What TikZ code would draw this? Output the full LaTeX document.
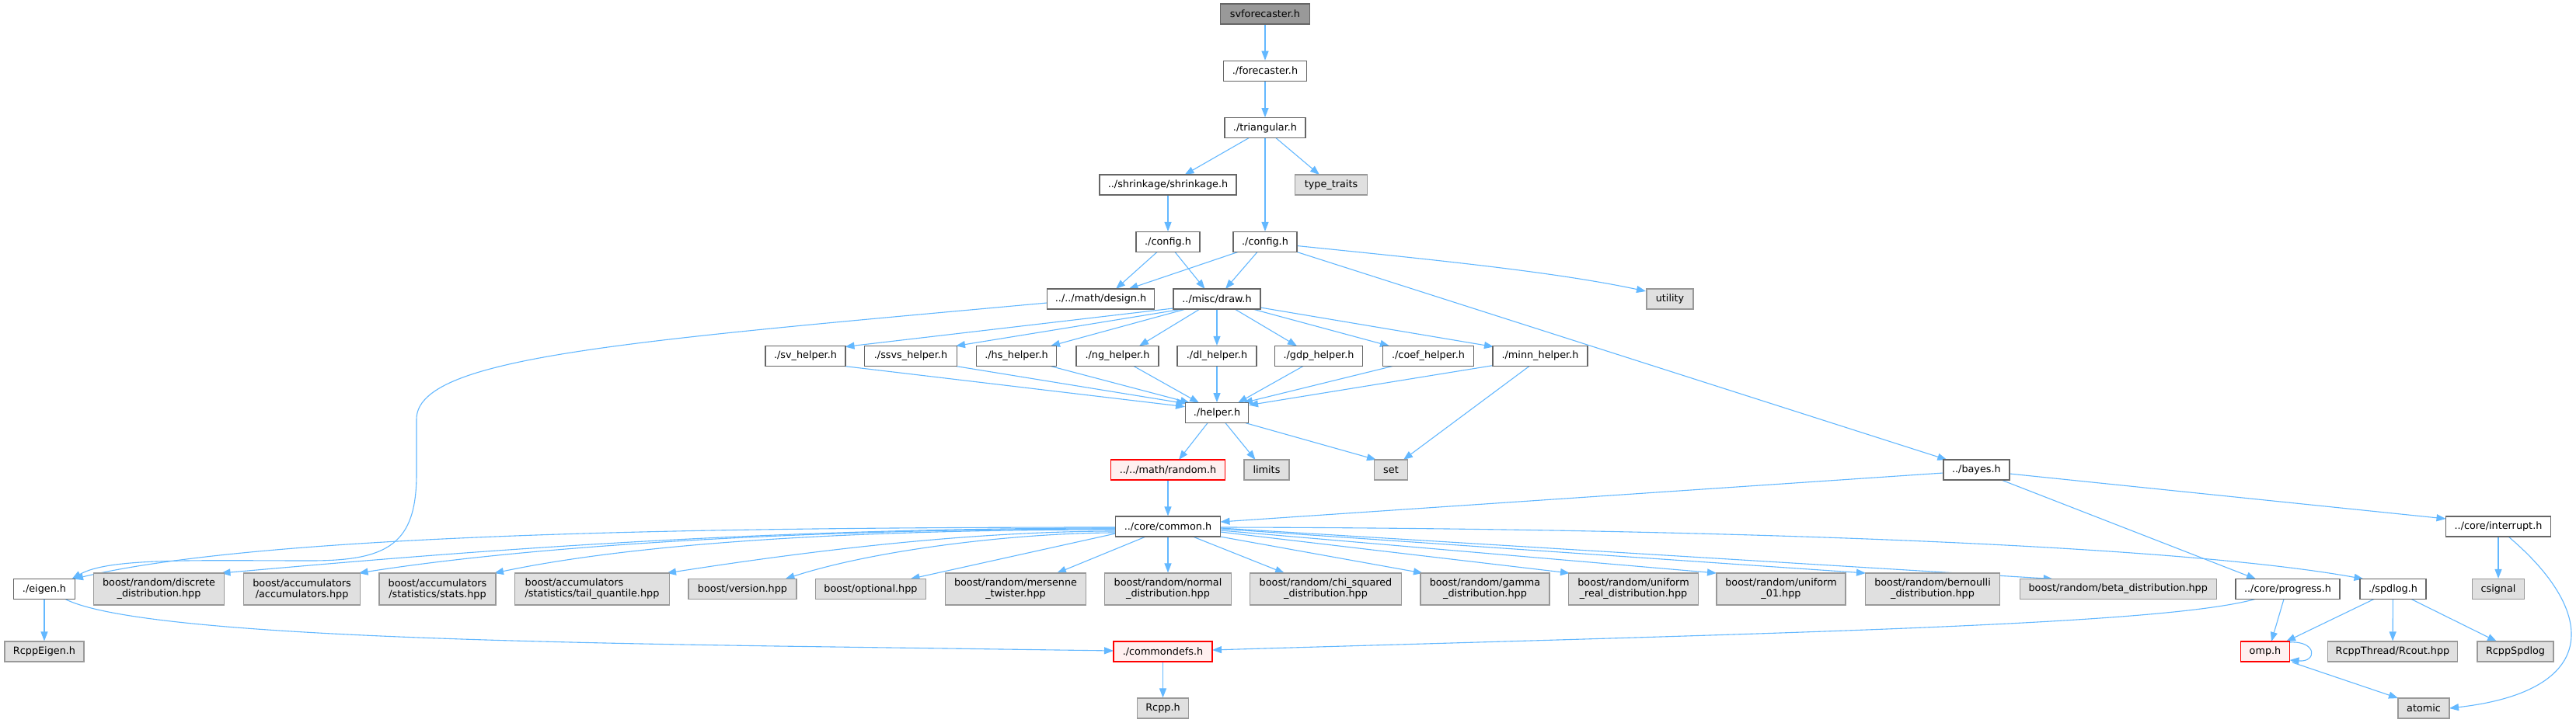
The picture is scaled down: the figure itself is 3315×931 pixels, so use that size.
\documentclass[tikz,border=0pt]{standalone}
\usepackage{fontspec}
\setmainfont{DejaVu Sans}
\usetikzlibrary{arrows.meta,calc,backgrounds}
\definecolor{edgec}{HTML}{63B8FF}
\definecolor{docb}{HTML}{666666}
\definecolor{extb}{HTML}{999999}
\definecolor{extf}{HTML}{E0E0E0}
\definecolor{redf}{HTML}{FFF0F0}
\definecolor{redb}{HTML}{FF0000}
\definecolor{rootf}{HTML}{999999}
\begin{document}
\begin{tikzpicture}[x=1pt,y=-1pt,
 box/.style={draw, line width=1.2pt, inner sep=0pt, minimum height=26pt, font=\fontsize{12.8}{14}\selectfont, text=black},
 doc/.style={box, draw=docb, fill=white},
 ext/.style={box, draw=extb, fill=extf},
 trunc/.style={box, draw=redb, fill=redf},
 rootn/.style={box, draw=docb, fill=rootf},
 two/.style={minimum height=41pt, align=center},
 e/.style={draw=edgec, line width=1.1pt, -{Triangle[length=12pt,width=9pt]}},
]
\useasboundingbox (0,0) rectangle (3315,931);
% rank 0-5
\node[rootn, minimum width=115pt] (root) at (1628,18) {svforecaster.h};
\node[doc, minimum width=107pt] (fore) at (1628,91.3) {./forecaster.h};
\node[doc, minimum width=104pt] (tri) at (1628,164.7) {./triangular.h};
\node[doc, minimum width=176pt] (shrink) at (1503,238) {../shrinkage/shrinkage.h};
\node[ext, minimum width=93pt] (tt) at (1713,238) {type\_traits};
\node[doc, minimum width=82pt] (cfgL) at (1503,311.5) {./config.h};
\node[doc, minimum width=82pt] (cfgR) at (1628,311.5) {./config.h};
\node[doc, minimum width=138pt] (design) at (1416.5,385) {../../math/design.h};
\node[doc, minimum width=112pt] (drawh) at (1566,385) {../misc/draw.h};
\node[ext, minimum width=60pt] (util) at (2149,385) {utility};
% helpers
\node[doc, minimum width=103pt] (sv) at (1036.5,458.5) {./sv\_helper.h};
\node[doc, minimum width=119pt] (ssvs) at (1172,458.5) {./ssvs\_helper.h};
\node[doc, minimum width=103pt] (hs) at (1308,458.5) {./hs\_helper.h};
\node[doc, minimum width=106pt] (ng) at (1438,458.5) {./ng\_helper.h};
\node[doc, minimum width=102pt] (dl) at (1566,458.5) {./dl\_helper.h};
\node[doc, minimum width=113pt] (gdp) at (1697,458.5) {./gdp\_helper.h};
\node[doc, minimum width=117pt] (coef) at (1838,458.5) {./coef\_helper.h};
\node[doc, minimum width=122pt] (minn) at (1982,458.5) {./minn\_helper.h};
\node[doc, minimum width=81pt] (helper) at (1566,531.7) {./helper.h};
\node[trunc, minimum width=147pt] (random) at (1503,605) {../../math/random.h};
\node[ext, minimum width=58pt] (limits) at (1630,605) {limits};
\node[ext, minimum width=43pt] (set) at (1790,605) {set};
\node[doc, minimum width=85pt] (bayes) at (2543.4,605) {../bayes.h};
\node[doc, minimum width=135.5pt] (common) at (1503,678) {../core/common.h};
\node[doc, minimum width=135pt] (interrupt) at (3215,678) {../core/interrupt.h};
% rank 10
\node[doc, minimum width=79pt] (eigen) at (57,758.5) {./eigen.h};
\node[ext, two, minimum width=168pt] (discrete) at (204.5,758.5) {boost/random/discrete\\\_distribution.hpp};
\node[ext, two, minimum width=150pt] (accum) at (388.6,758.5) {boost/accumulators\\/accumulators.hpp};
\node[ext, two, minimum width=150pt] (stats) at (563,758.5) {boost/accumulators\\/statistics/stats.hpp};
\node[ext, two, align=left, minimum width=198.5pt] (tail) at (762,758.5) {boost/accumulators\\/statistics/tail\_quantile.hpp};
\node[ext, minimum width=139pt] (version) at (955.5,758.5) {boost/version.hpp};
\node[ext, minimum width=141.6pt] (optional) at (1120.5,758.5) {boost/optional.hpp};
\node[ext, two, minimum width=181pt] (mersenne) at (1307,758.5) {boost/random/mersenne\\\_twister.hpp};
\node[ext, two, minimum width=163pt] (normal) at (1503,758.5) {boost/random/normal\\\_distribution.hpp};
\node[ext, two, minimum width=195pt] (chi) at (1706,758.5) {boost/random/chi\_squared\\\_distribution.hpp};
\node[ext, two, minimum width=166pt] (gamma) at (1911,758.5) {boost/random/gamma\\\_distribution.hpp};
\node[ext, two, minimum width=167pt] (ureal) at (2102,758.5) {boost/random/uniform\\\_real\_distribution.hpp};
\node[ext, two, minimum width=166pt] (u01) at (2292,758.5) {boost/random/uniform\\\_01.hpp};
\node[ext, two, minimum width=173pt] (bern) at (2487,758.5) {boost/random/bernoulli\\\_distribution.hpp};
\node[ext, minimum width=253pt] (beta) at (2725.7,758.5) {boost/random/beta\_distribution.hpp};
\node[doc, minimum width=134pt] (progress) at (2944,758.5) {../core/progress.h};
\node[doc, minimum width=85pt] (spdlog) at (3079.5,758.5) {./spdlog.h};
\node[ext, minimum width=67pt] (csignal) at (3215,758.5) {csignal};
% rank 11-12
\node[ext, minimum width=102pt] (rcppeigen) at (57,839) {RcppEigen.h};
\node[trunc, minimum width=127pt] (commondefs) at (1496.5,839) {./commondefs.h};
\node[trunc, minimum width=63pt] (omp) at (2915,839) {omp.h};
\node[ext, minimum width=167pt] (rcout) at (3079,839) {RcppThread/Rcout.hpp};
\node[ext, minimum width=98pt] (rcppspdlog) at (3237,839) {RcppSpdlog};
\node[ext, minimum width=66pt] (rcpp) at (1496.5,912) {Rcpp.h};
\node[ext, minimum width=66pt] (atomic) at (3119,912) {atomic};
\begin{scope}[on background layer]
\fill[white] (0,0) rectangle (3315,931);
\draw[e] (root) -- (fore);
\draw[e] (fore) -- (tri);
\draw[e] ($(tri)+(-21,13)$) -- ($(shrink)+(21.5,-13)$);
\draw[e] ($(tri)+(14,13)$) -- ($(tt)+(-15,-13)$);
\draw[e] (tri) -- (cfgR);
\draw[e] (shrink) -- (cfgL);
\draw[e] ($(cfgL)+(-14,13)$) -- ($(design)+(19.5,-13)$);
\draw[e] ($(cfgL)+(9,13)$) -- ($(drawh)+(-15.5,-13)$);
\draw[e] ($(cfgR)+(-35,13)$) -- ($(design)+(36,-13)$);
\draw[e] ($(cfgR)+(-10,13)$) -- ($(drawh)+(11,-13)$);
\draw[e] ($(cfgR)+(41,5)$) .. controls (1850,335) and (2000,350) .. ($(util)+(-31,-10)$);
\draw[e] ($(cfgR)+(41,13)$) -- ($(bayes)+(-38,-13)$);
\draw[e] ($(design)+(-69,5)$) .. controls (800,440) and (536,460) .. (536,540) -- (536,610) .. controls (536,700) and (500,722) .. (400,722) .. controls (250,722) and (140,718) .. ($(eigen)+(35.5,-13)$);
% draw fan
\draw[e] ($(drawh)+(-56,12)$) -- ($(sv)+(51,-12)$);
\draw[e] ($(drawh)+(-44,13)$) -- ($(ssvs)+(58,-13)$);
\draw[e] ($(drawh)+(-40,13)$) -- ($(hs)+(44,-13)$);
\draw[e] ($(drawh)+(-22,13)$) -- ($(ng)+(28,-13)$);
\draw[e] (drawh) -- (dl);
\draw[e] ($(drawh)+(23,13)$) -- ($(gdp)+(-28,-13)$);
\draw[e] ($(drawh)+(46,13)$) -- ($(coef)+(-50,-13)$);
\draw[e] ($(drawh)+(56,11)$) -- ($(minn)+(-60,-12)$);
% helpers in
\draw[e] ($(sv)+(50,13)$) -- ($(helper)+(-41,-8)$);
\draw[e] ($(ssvs)+(58,13)$) -- ($(helper)+(-40,-12)$);
\draw[e] ($(hs)+(44,13)$) -- ($(helper)+(-35,-13)$);
\draw[e] ($(ng)+(21,13)$) -- ($(helper)+(-23,-13)$);
\draw[e] (dl) -- (helper);
\draw[e] ($(gdp)+(-20,13)$) -- ($(helper)+(27,-13)$);
\draw[e] ($(coef)+(-46,13)$) -- ($(helper)+(34,-13)$);
\draw[e] ($(minn)+(-60,12)$) -- ($(helper)+(41,-10)$);
\draw[e] ($(minn)+(-14,13)$) -- ($(set)+(16,-13)$);
\draw[e] ($(helper)+(-12,13)$) -- ($(random)+(14,-13)$);
\draw[e] ($(helper)+(11,13)$) -- ($(limits)+(-14.5,-13)$);
\draw[e] ($(helper)+(37,13)$) -- ($(set)+(-19,-13)$);
\draw[e] (random) -- (common);
\draw[e] ($(bayes)+(-42.5,4)$) -- ($(common)+(67.5,-6)$);
\draw[e] ($(bayes)+(32,13)$) -- ($(progress)+(-41,-13)$);
\draw[e] ($(bayes)+(42.5,5)$) -- ($(interrupt)+(-67.5,-10)$);
% common fan
\draw[e] ($(common)+(-67.5,1)$) .. controls (935,679) and (346,686) .. ($(eigen)+(38,-13)$);
\draw[e] ($(common)+(-67.5,2)$) .. controls (935.5,680) and (534.5,716) .. ($(discrete)+(80,-20.5)$);
\draw[e] ($(common)+(-67.5,3)$) .. controls (1035.5,681) and (681.6,703) .. ($(accum)+(73,-20.5)$);
\draw[e] ($(common)+(-67.5,4)$) .. controls (1135.5,682) and (836,696) .. ($(stats)+(73,-20.5)$);
\draw[e] ($(common)+(-67.5,6)$) .. controls (1235.5,684) and (1018,713) .. ($(tail)+(96,-20.5)$);
\draw[e] ($(common)+(-67.5,8)$) .. controls (1315.5,686) and (1130.5,706.5) .. ($(version)+(55,-13)$);
\draw[e] ($(common)+(-67.5,9)$) -- ($(optional)+(51,-13)$);
\draw[e] ($(common)+(-28.5,13)$) -- ($(mersenne)+(53,-20.5)$);
\draw[e] (common) -- (normal);
\draw[e] ($(common)+(32,13)$) -- ($(chi)+(-53,-20.5)$);
\draw[e] ($(common)+(67,13)$) -- ($(gamma)+(-80,-20.5)$);
\draw[e] ($(common)+(67.5,7)$) -- ($(ureal)+(-82,-20.5)$);
\draw[e] ($(common)+(67.5,5)$) -- ($(u01)+(-83,-20.5)$);
\draw[e] ($(common)+(67.5,3)$) -- ($(bern)+(-86,-20.5)$);
\draw[e] ($(common)+(67.5,2)$) -- ($(beta)+(-84,-13)$);
\draw[e] ($(common)+(67.5,1)$) .. controls (2171,680) and (2791,700) .. ($(spdlog)+(-38,-13)$);
% lower
\draw[e] (eigen) -- (rcppeigen);
\draw[e] ($(eigen)+(27,13)$) .. controls (170,815) and (600,826) .. (1000,832) -- ($(commondefs)+(-63.5,-1)$);
\draw[e] ($(progress)+(-42,13)$) .. controls (2780,805) and (2300,815) .. ($(commondefs)+(63.5,-2)$);
\draw[e] (commondefs) -- (rcpp);
\draw[e] ($(progress)+(-5,13)$) -- ($(omp)+(8,-13)$);
\draw[e] ($(spdlog)+(-24.5,13)$) -- ($(omp)+(27,-13)$);
\draw[e] (spdlog) -- (rcout);
\draw[e] ($(spdlog)+(23.5,13)$) -- ($(rcppspdlog)+(-24,-13)$);
\draw[e] ($(omp)+(31.5,-12)$) .. controls (2982,825) and (2982,853) .. ($(omp)+(31.5,11)$);
\draw[e] ($(omp)+(35,14)$) -- ($(atomic)+(-33,-13)$);
\draw[e] (interrupt) -- (csignal);
\draw[e] ($(interrupt)+(13,13)$) .. controls (3345,790) and (3345,890) .. ($(atomic)+(33,0)$);
\end{scope}
\end{tikzpicture}
\end{document}
